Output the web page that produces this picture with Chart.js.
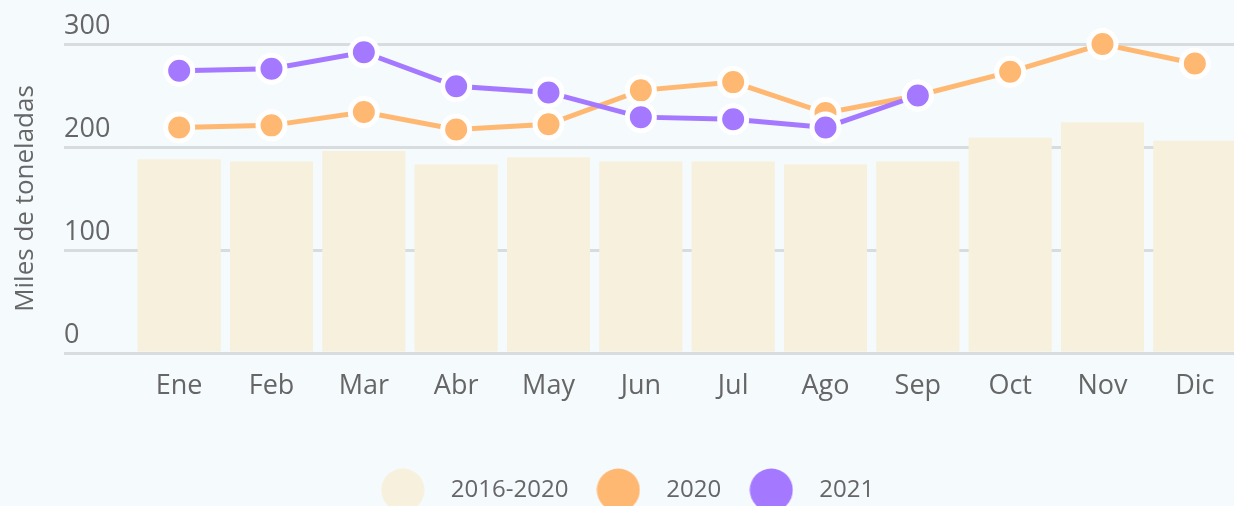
<!DOCTYPE html>
<html>

<head>
    <meta charset="utf-8">
    <script src="https://cdn.jsdelivr.net/npm/chart.js@4.4.0/dist/chart.umd.min.js"></script>
    <style>
        html, body { margin: 0; padding: 0; overflow: hidden; background: #F5FAFD; }
        canvas { display: block; }
    </style>
</head>

<body>
    <canvas id="myChart" width="1241" height="512"></canvas>
    <script>
        // datos (miles de toneladas)
        const meses = ["Ene", "Feb", "Mar", "Abr", "May", "Jun", "Jul", "Ago", "Sep", "Oct", "Nov", "Dic"];
        const promedio = [188, 186, 196, 183, 190, 186, 186, 183, 186, 209, 224, 206];
        const serie2020 = [219, 221, 234, 217, 222, 255, 263, 233, 250, 273, 300, 281];
        const serie2021 = [274, 276, 292, 259, 253, 229, 227, 219, 250, null, null, null];
        const ticksY = [0, 100, 200, 300];
        const nombres = ["2016-2020", "2020", "2021"];

        const colBar = "#F7F0DC";
        const col2020 = "#FFB872";
        const col2021 = "#A478FF";
        const colText = "#666666";
        const colGrid = "#D9DCDF";

        Chart.defaults.font.family = "'Open Sans', sans-serif";
        Chart.defaults.color = colText;

        // circulos grandes para la leyenda
        function makeDot(color) {
            const c = document.createElement("canvas");
            c.width = 44;
            c.height = 44;
            const g = c.getContext("2d");
            g.fillStyle = color;
            g.beginPath();
            g.arc(22, 22, 21.5, 0, Math.PI * 2);
            g.fill();
            return c;
        }
        const dots = [makeDot(colBar), makeDot(col2020), makeDot(col2021)];

        function lineSet(label, data, color) {
            return {
                type: "line",
                label: label,
                data: data,
                borderColor: color,
                backgroundColor: color,
                borderWidth: 5,
                pointRadius: 13.5,
                pointBorderWidth: 5,
                pointBorderColor: "#ffffff",
                pointBackgroundColor: color,
                tension: 0,
                clip: false
            };
        }

        const ds2020 = lineSet(nombres[1], serie2020, col2020);
        ds2020.order = 1;
        const ds2021 = lineSet(nombres[2], serie2021, col2021);
        ds2021.order = 0;

        new Chart(document.getElementById("myChart"), {
            type: "bar",
            data: {
                labels: meses,
                datasets: [{
                    label: nombres[0],
                    data: promedio,
                    backgroundColor: colBar,
                    barPercentage: 0.9,
                    categoryPercentage: 1,
                    order: 2
                }, ds2020, ds2021]
            },
            options: {
                responsive: false,
                animation: false,
                events: [],
                layout: {
                    autoPadding: false,
                    padding: { top: 44, left: 0, right: 0, bottom: 0 }
                },
                scales: {
                    x: {
                        grid: { display: false },
                        border: { display: false },
                        ticks: {
                            color: colText,
                            font: { size: 27 },
                            padding: 9,
                            maxRotation: 0
                        },
                        afterFit: function (scale) { scale.height = 111; }
                    },
                    y: {
                        min: 0,
                        max: 300,
                        afterBuildTicks: function (scale) {
                            scale.ticks = ticksY.map(v => ({ value: v }));
                        },
                        grid: {
                            color: colGrid,
                            lineWidth: 3,
                            drawTicks: true,
                            tickLength: 69,
                            tickColor: colGrid
                        },
                        border: { display: false },
                        ticks: {
                            mirror: true,
                            padding: -69,
                            crossAlign: "near",
                            color: colText,
                            font: { size: 27, lineHeight: 1.3 },
                            callback: function (value) { return [String(value), ""]; }
                        },
                        title: {
                            display: true,
                            text: "Miles de toneladas",
                            color: colText,
                            font: { size: 26 },
                            padding: { top: 10, bottom: 0 }
                        },
                        afterFit: function (scale) { scale.width = 133; }
                    }
                },
                plugins: {
                    legend: {
                        position: "bottom",
                        labels: {
                            usePointStyle: true,
                            pointStyleWidth: 72,
                            padding: 14,
                            color: colText,
                            font: { size: 24 },
                            sort: (a, b) => a.datasetIndex - b.datasetIndex,
                            generateLabels: function (chart) {
                                const items = Chart.defaults.plugins.legend.labels.generateLabels(chart);
                                items.forEach(it => { it.pointStyle = dots[it.datasetIndex]; });
                                return items;
                            }
                        }
                    },
                    tooltip: { enabled: false }
                }
            }
        });
    </script>
</body>

</html>
